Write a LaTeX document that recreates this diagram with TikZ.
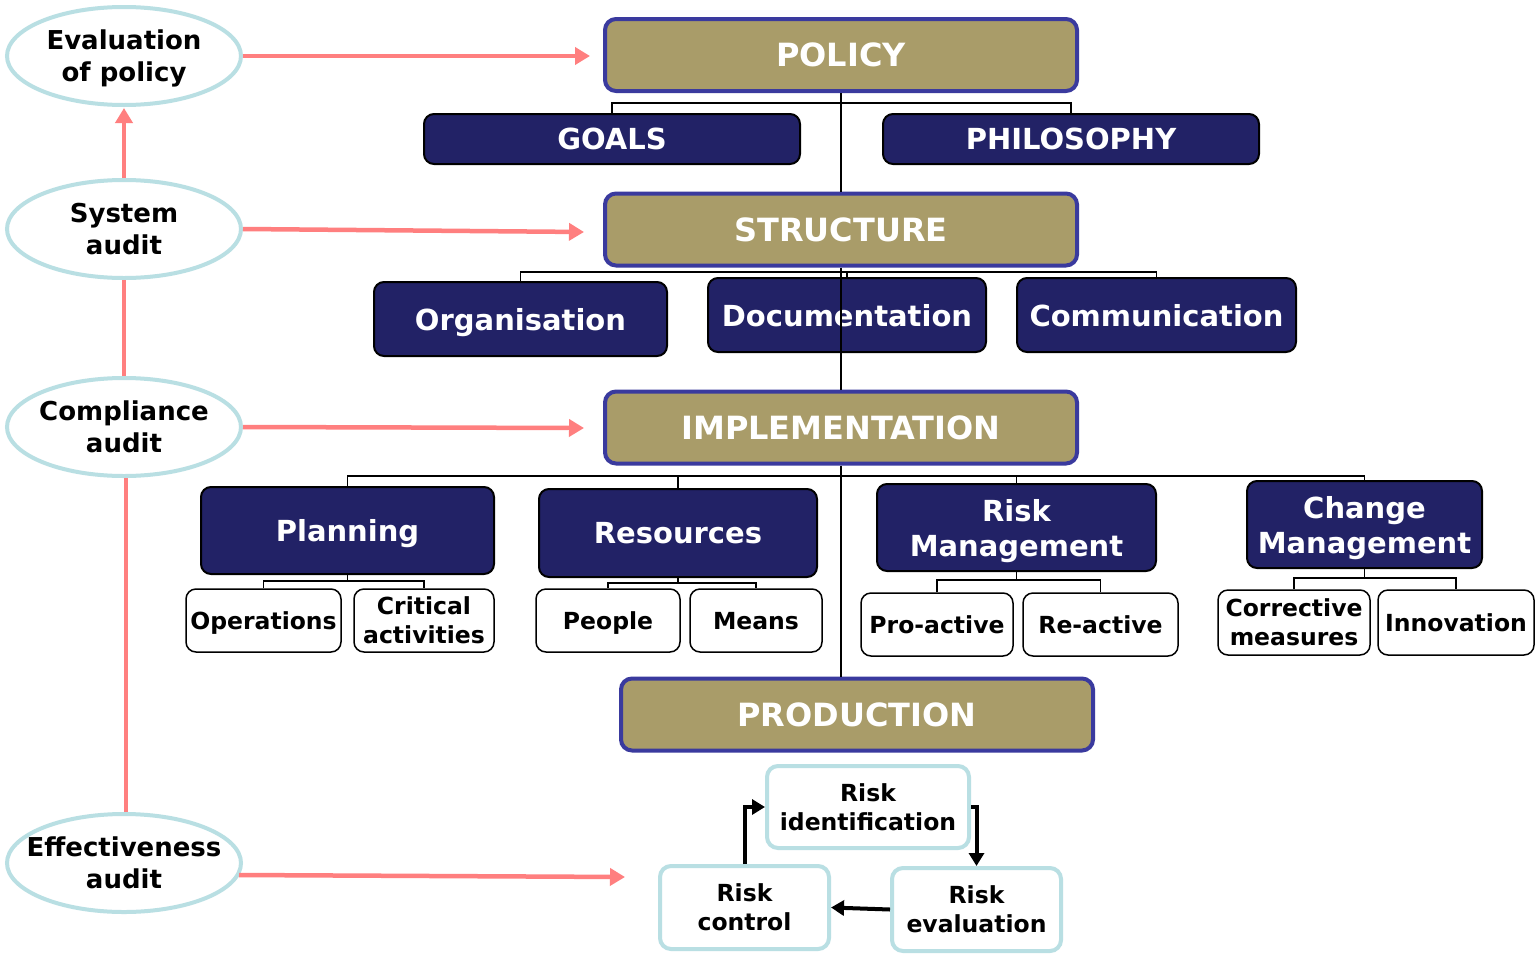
\documentclass[tikz,border=0pt]{standalone}
\usepackage{fontspec}
\setmainfont{DejaVu Sans}
\usetikzlibrary{shapes.geometric,arrows.meta}
\definecolor{tan}{HTML}{A99C69}
\definecolor{navy}{HTML}{222266}
\definecolor{bordblue}{HTML}{3A3A9E}
\definecolor{lblue}{HTML}{B9DFE3}
\definecolor{pinkline}{HTML}{FF7F7F}
\tikzset{
  mainbox/.style={draw=bordblue, line width=4pt, fill=tan, rounded corners=11pt, text=white,
    font=\fontsize{32}{36}\selectfont\bfseries, minimum width=472pt, minimum height=72pt, inner sep=0pt},
  darkbox/.style={draw=black, line width=2pt, fill=navy, rounded corners=10pt, text=white, align=center,
    font=\fontsize{29}{35}\selectfont\bfseries, inner sep=0pt, text depth=0pt},
  whitebox/.style={draw=black, line width=1.5pt, fill=white, rounded corners=10pt, align=center,
    font=\fontsize{23.5}{29}\selectfont\bfseries, inner sep=0pt, text depth=0pt},
  cycbox/.style={draw=lblue, line width=4pt, fill=white, rounded corners=11pt, align=center,
    font=\fontsize{23.5}{29}\selectfont\bfseries, inner sep=0pt},
  auditell/.style={ellipse, draw=lblue, line width=4pt, fill=white, align=center,
    font=\fontsize{26}{32}\selectfont\bfseries, minimum width=234pt, minimum height=98pt,
    inner xsep=-17pt, inner ysep=0pt, text depth=0pt},
  pinkarrow/.style={draw=pinkline, line width=4.5pt, -{Triangle[length=15pt,width=17pt]}},
  pinkline/.style={draw=pinkline, line width=4.5pt},
  conn/.style={draw=black, line width=1.8pt},
  cycarrow/.style={draw=black, line width=4pt, -{Triangle[length=13pt,width=15pt]}},
}
\begin{document}
\begin{tikzpicture}[x=1pt,y=-1pt]
\useasboundingbox[fill=white] (0,0) rectangle (1538,953);

% audit ellipses
\node[auditell] (eval) at (124,56) {Evaluation\\of policy};
\node[auditell] (sys) at (124,229) {System\\audit};
\node[auditell] (comp) at (124,427) {Compliance\\audit};
\node[auditell] (eff) at (124,863) {Effectiveness\\audit};

% main boxes
\node[mainbox] (policy) at (841,55) {POLICY};
\node[mainbox] (structure) at (841,229.5) {STRUCTURE};
\node[mainbox] (impl) at (841,427.5) {IMPLEMENTATION};
\node[mainbox] (prod) at (857,714.5) {PRODUCTION};

% level 2
\node[darkbox, minimum width=376pt, minimum height=50pt] (goals) at (612,139) {GOALS};
\node[darkbox, minimum width=376pt, minimum height=50pt] (philo) at (1071,139) {PHILOSOPHY};

\node[darkbox, minimum width=293pt, minimum height=74pt] (org) at (520.5,319) {Organisation};
\node[darkbox, minimum width=278pt, minimum height=74pt] (doc) at (847,315) {Documentation};
\node[darkbox, minimum width=279pt, minimum height=74pt] (comm) at (1156.5,315) {Communication};

\node[darkbox, minimum width=293pt, minimum height=87pt] (plan) at (347.5,530.5) {Planning};
\node[darkbox, minimum width=278pt, minimum height=88pt] (res) at (678,533) {Resources};
\node[darkbox, minimum width=279pt, minimum height=87pt] (riskm) at (1016.5,527.5) {Risk\\Management};
\node[darkbox, minimum width=235pt, minimum height=87pt] (chm) at (1364.5,524.5) {Change\\Management};

% level 3
\node[whitebox, minimum width=155pt, minimum height=63pt] (ops) at (263.5,620.5) {Operations};
\node[whitebox, minimum width=140pt, minimum height=63pt] (crit) at (424,620.5) {Critical\\activities};
\node[whitebox, minimum width=144pt, minimum height=63pt] (people) at (608,620.5) {People};
\node[whitebox, minimum width=132pt, minimum height=63pt] (means) at (756,620.5) {Means};
\node[whitebox, minimum width=152pt, minimum height=63pt] (pro) at (937,624.5) {Pro-active};
\node[whitebox, minimum width=155pt, minimum height=63pt] (re) at (1100.5,624.5) {Re-active};
\node[whitebox, minimum width=152pt, minimum height=65pt] (corr) at (1294,622.5) {Corrective\\measures};
\node[whitebox, minimum width=156pt, minimum height=65pt] (innov) at (1456,622.5) {Innovation};

% risk cycle
\node[cycbox, minimum width=202pt, minimum height=82pt] (rid) at (868,807) {Risk\\identification};
\node[cycbox, minimum width=169pt, minimum height=83pt] (rc) at (744.5,907.5) {Risk\\control};
\node[cycbox, minimum width=169pt, minimum height=83pt] (rev) at (976.5,909.5) {Risk\\evaluation};

% connectors: policy
\draw[conn] (policy.south) -- (structure.north);
\draw[conn] (goals.north) -- (goals.north |- 0,103) -- (philo.north |- 0,103) -- (philo.north);
% structure
\draw[conn] (org.north) -- (org.north |- 0,272) -- (comm.north |- 0,272) -- (comm.north);
\draw[conn] (doc.north) -- (doc.north |- 0,272);
\draw[conn] (structure.south) -- (impl.north);
% implementation
\draw[conn] (plan.north) -- (plan.north |- 0,476) -- (chm.north |- 0,476) -- (chm.north);
\draw[conn] (res.north) -- (res.north |- 0,476);
\draw[conn] (riskm.north) -- (riskm.north |- 0,476);
\draw[conn] (impl.south) -- (impl.south |- prod.north);
% sub brackets
\draw[conn] (plan.south) -- (plan.south |- 0,581);
\draw[conn] (ops.north) -- (ops.north |- 0,581) -- (crit.north |- 0,581) -- (crit.north);
\draw[conn] (res.south) -- (res.south |- 0,583);
\draw[conn] (people.north) -- (people.north |- 0,583) -- (means.north |- 0,583) -- (means.north);
\draw[conn] (riskm.south) -- (riskm.south |- 0,580);
\draw[conn] (pro.north) -- (pro.north |- 0,580) -- (re.north |- 0,580) -- (re.north);
\draw[conn] (chm.south) -- (chm.south |- 0,578);
\draw[conn] (corr.north) -- (corr.north |- 0,578) -- (innov.north |- 0,578) -- (innov.north);

% cycle arrows
\draw[cycarrow] (rc.north) |- (rid.west);
\draw[cycarrow] (rid.east) -| (rev.north);
\draw[cycarrow] (rev.west) -- (rc.east);

% pink arrows
\coordinate (sysend) at (584,232);
\coordinate (compend) at (584,428);
\coordinate (effend) at (625,877);
\draw[pinkarrow, shorten >=13pt] (eval.east) -- (eval.east -| policy.west);
\draw[pinkarrow] (sys.east) -- (sysend);
\draw[pinkarrow] (comp.east) -- (compend);
\draw[pinkarrow] ([shift={(-4,12)}]eff.east) -- (effend);
\draw[pinkarrow, shorten >=1pt] (sys.north) -- (eval.south);
\draw[pinkline] (comp.north) -- (sys.south);
\draw[pinkline] ([xshift=2pt]eff.north) -- ([xshift=2pt]comp.south);
\end{tikzpicture}
\end{document}
